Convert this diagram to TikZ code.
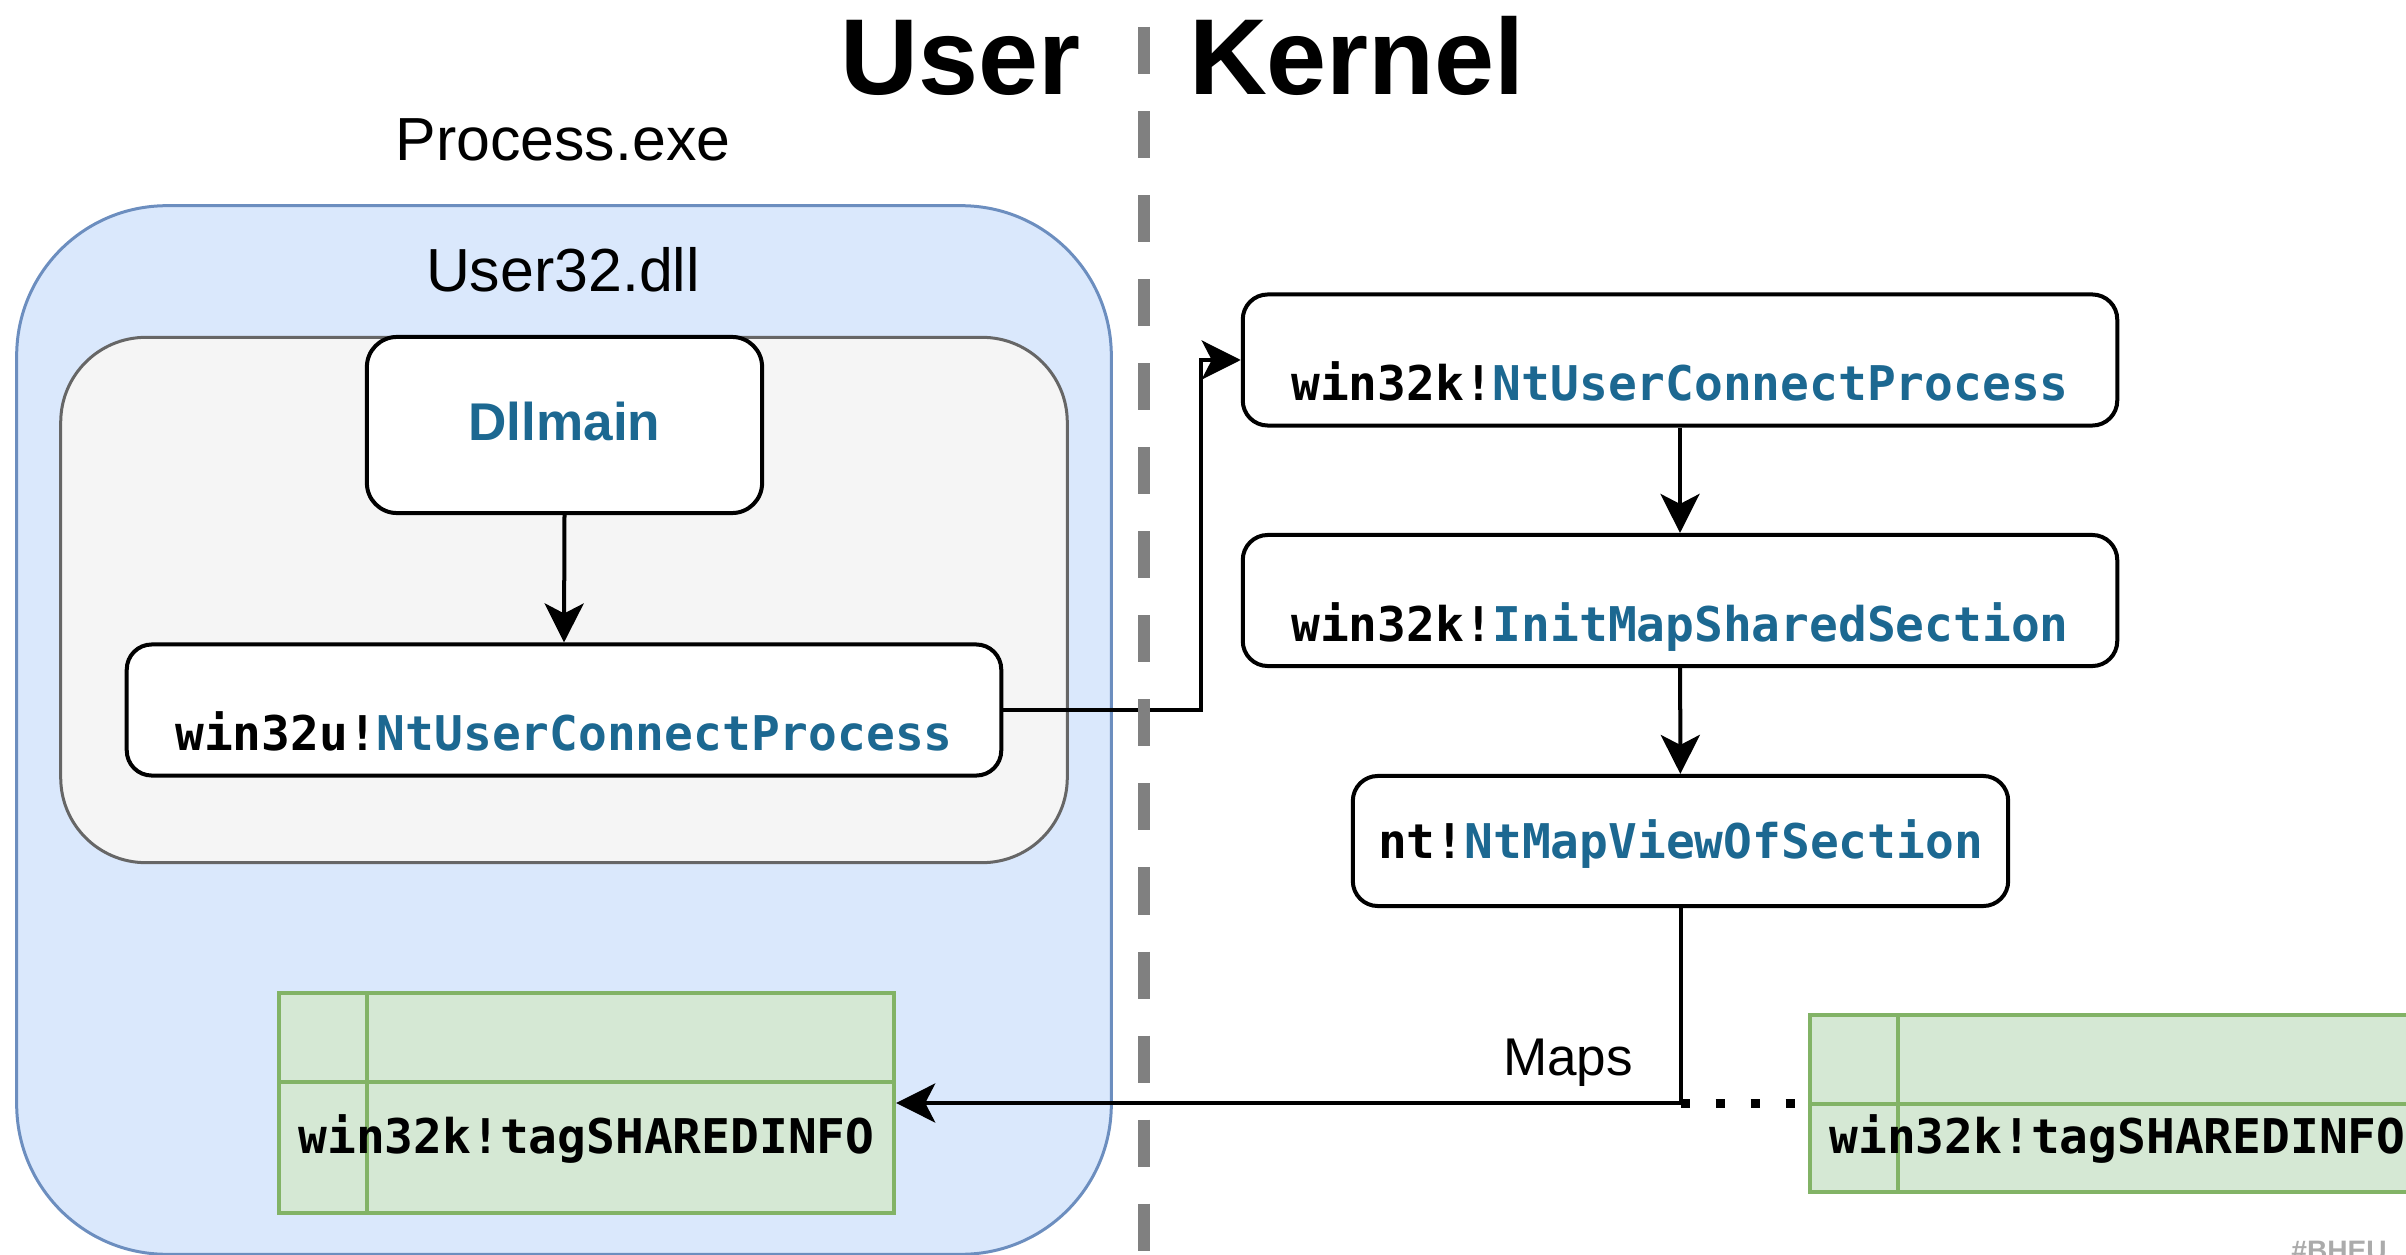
\documentclass[tikz,border=0pt]{standalone}
\usepackage{fontspec}
\setmainfont{Liberation Sans}
\newfontfamily\codefont{DejaVu Sans Mono}
\usetikzlibrary{arrows.meta,calc}

\definecolor{userfill}{HTML}{DAE8FC}
\definecolor{userline}{HTML}{6C8EBF}
\definecolor{dllfill}{HTML}{F5F5F5}
\definecolor{dllline}{HTML}{666666}
\definecolor{tabfill}{HTML}{D5E8D4}
\definecolor{tabline}{HTML}{82B366}
\definecolor{fnblue}{HTML}{1C6891}
\definecolor{sepgray}{HTML}{808080}

% module!Function, function name in blue
\newcommand{\callname}[2]{#1\textcolor{fnblue}{#2}}

\tikzset{
  fnbox/.style={draw=black, line width=0.04cm, fill=white, rounded corners=0.25cm, inner sep=0pt,
    font=\codefont\bfseries\fontsize{13.6pt}{16pt}\selectfont},
  lowtext/.style={text height=23.3pt, text depth=0pt},
  tabbox/.style={draw=tabline, fill=tabfill, line width=0.04cm, inner sep=0pt,
    text height=28.6pt, text depth=0pt,
    font=\codefont\bfseries\fontsize{13.6pt}{16pt}\selectfont,
    path picture={
      \draw[tabline, line width=0.04cm] ($(path picture bounding box.north west)+(0,89)$) -- ($(path picture bounding box.north east)+(0,89)$);
      \draw[tabline, line width=0.04cm] ($(path picture bounding box.north west)+(88,0)$) -- ($(path picture bounding box.south west)+(88,0)$);
    }},
  flow/.style={line width=0.04cm, -{Stealth[length=0.39cm, width=0.39cm, inset=0.1cm]}},
  plainlabel/.style={anchor=base, font=\fontsize{17.3pt}{20pt}\selectfont},
}

\begin{document}
\begin{tikzpicture}[x=0.01cm, y=-0.01cm]
\useasboundingbox (0,0) rectangle (2406,1255);
\clip (0,0) rectangle (2406,1255);

% headings
\node[anchor=base, font=\bfseries\fontsize{30.7pt}{34pt}\selectfont] (user) at (961,95) {User};
\node[anchor=base, font=\bfseries\fontsize{30.7pt}{34pt}\selectfont] (kernel) at (1357,95) {Kernel};

% user side
\node[plainlabel] (procexe) at (563,161) {Process.exe};
\node[draw=userline, fill=userfill, line width=0.03cm, rounded corners=1.5cm, inner sep=0pt,
  minimum width=10.94cm, minimum height=10.48cm] (user32) at (564,730) {};
\node[plainlabel] (user32lbl) at (563,292) {User32.dll};
\node[draw=dllline, fill=dllfill, line width=0.03cm, rounded corners=0.85cm, inner sep=0pt,
  minimum width=10.06cm, minimum height=5.25cm] (dllbody) at (564,600) {};
\node[fnbox, rounded corners=0.3cm, minimum width=3.95cm, minimum height=1.76cm, text=fnblue,
  font=\bfseries\fontsize{15.1pt}{18pt}\selectfont, text height=9.1pt, text depth=0pt] (dllmain) at (564.5,425) {Dllmain};
\node[fnbox, lowtext, minimum width=8.74cm, minimum height=1.31cm] (ucp) at (564,710) {\callname{win32u!}{NtUserConnectProcess}};
\node[tabbox, minimum width=6.15cm, minimum height=2.2cm] (ltab) at (586.5,1103) {win32k!tagSHAREDINFO};

% kernel side
\node[fnbox, lowtext, minimum width=8.74cm, minimum height=1.31cm] (kcp) at (1680,360) {\callname{win32k!}{NtUserConnectProcess}};
\node[fnbox, lowtext, minimum width=8.74cm, minimum height=1.31cm] (kmap) at (1680,600.5) {\callname{win32k!}{InitMapSharedSection}};
\node[fnbox, text height=9.9pt, text depth=0pt, minimum width=6.55cm, minimum height=1.3cm] (ntmap) at (1680.5,841) {\callname{nt!}{NtMapViewOfSection}};
\node[tabbox, minimum width=6.15cm, minimum height=1.77cm] (rtab) at (2117.5,1103.5) {win32k!tagSHAREDINFO};

% calls
\draw[flow] (dllmain.south) -- (ucp.north);
\draw[flow] (ucp.east) -- ++(198,0) |- (kcp.west);
\draw[flow] (kcp) -- (kmap);
\draw[flow] (kmap) -- (ntmap);

% mapping
\coordinate (fork) at (ntmap.south |- ltab.east);
\draw[flow] (ntmap.south) |- (ltab.east);
\node[anchor=base, font=\fontsize{15.1pt}{18pt}\selectfont] (maps) at (1568,1075) {Maps};
\draw[line width=0.09cm, dash pattern=on 0.09cm off 0.26cm] (fork) -- (rtab.west |- fork);

% user/kernel boundary
\coordinate (septop) at (1144,27);
\coordinate (sepbot) at (1144,1270);
\draw[sepgray, line width=0.12cm, dash pattern=on 0.47cm off 0.37cm] (septop) -- (sepbot);

\node[anchor=base west, text=black!33, font=\bfseries\fontsize{8pt}{10pt}\selectfont] (tag) at (2279,1260) {\#BHEU};
\end{tikzpicture}
\end{document}
